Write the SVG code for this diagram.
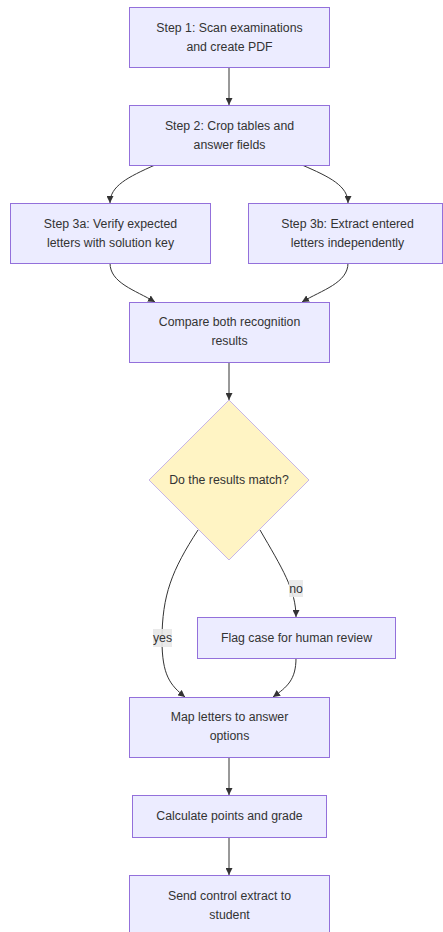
<svg xmlns="http://www.w3.org/2000/svg" width="443" height="932" viewBox="0 0 443 932">
<style>
.node rect{fill:#ECECFF;stroke:#9370DB;stroke-width:1}
.node polygon{fill:#FFF4C4;stroke:#C8B6E6;stroke-width:1}
text{font-family:"Liberation Sans",Arial,sans-serif;font-size:12.3px;fill:#333;text-anchor:middle;dominant-baseline:central}
.edges path{fill:none;stroke:#333;stroke-width:1}
.lbl rect{fill:#E8E8E8;opacity:0.9}
</style>
<defs>
<marker id="arr" viewBox="0 0 10 10" refX="10" refY="5" markerWidth="7" markerHeight="7" orient="auto" markerUnits="userSpaceOnUse">
<path d="M0,0 L10,5 L0,10 z" fill="#333"/>
</marker>
</defs>
<rect width="443" height="932" fill="#fff"/>
<g class="edges">
<path d="M229,67 L229,105" marker-end="url(#arr)"/>
<path d="M155,165 C128,177 110,186 110,203" marker-end="url(#arr)"/>
<path d="M302,165 C330,177 348,186 348,203" marker-end="url(#arr)"/>
<path d="M110,263 C110,283 135,290 155,302" marker-end="url(#arr)"/>
<path d="M348,263 C348,283 322,290 302,302" marker-end="url(#arr)"/>
<path d="M229,362 L229,400" marker-end="url(#arr)"/>
<path d="M198,530 C172,570 162,595 162,640 C162,675 170,685 185,697" marker-end="url(#arr)"/>
<path d="M260,530 C282,568 296,590 296,617" marker-end="url(#arr)"/>
<path d="M296,658 C296,680 287,687 273,697" marker-end="url(#arr)"/>
<path d="M229,757 L229,795" marker-end="url(#arr)"/>
<path d="M229,837 L229,875" marker-end="url(#arr)"/>
</g>
<g class="lbl" id="label-no"><rect x="289" y="580" width="14" height="17"/><text x="296" y="588.5">no</text></g>
<g class="lbl" id="label-yes"><rect x="153" y="629" width="19" height="18"/><text x="162.5" y="638">yes</text></g>
<g class="node" id="step1"><rect x="129.5" y="7.5" width="200" height="60"/><text x="229.5" y="28">Step 1: Scan examinations</text><text x="229.5" y="47">and create PDF</text></g>
<g class="node" id="step2"><rect x="129.5" y="105.5" width="200" height="60"/><text x="229.5" y="126">Step 2: Crop tables and</text><text x="229.5" y="145">answer fields</text></g>
<g class="node" id="step3a"><rect x="10.5" y="203.5" width="200" height="60"/><text x="110.5" y="224">Step 3a: Verify expected</text><text x="110.5" y="243">letters with solution key</text></g>
<g class="node" id="step3b"><rect x="248.5" y="203.5" width="194" height="60"/><text x="347.5" y="224">Step 3b: Extract entered</text><text x="347.5" y="243">letters independently</text></g>
<g class="node" id="compare"><rect x="129.5" y="302.5" width="200" height="60"/><text x="229.5" y="322">Compare both recognition</text><text x="229.5" y="341">results</text></g>
<g class="node" id="decision"><polygon points="229,400 309,480 229,560 149,480"/><text x="229" y="480">Do the results match?</text></g>
<g class="node" id="flag"><rect x="197.5" y="617.5" width="198" height="41"/><text x="296.5" y="638">Flag case for human review</text></g>
<g class="node" id="map"><rect x="129.5" y="697.5" width="200" height="60"/><text x="229.5" y="717">Map letters to answer</text><text x="229.5" y="736">options</text></g>
<g class="node" id="calc"><rect x="132.5" y="795.5" width="194" height="42"/><text x="229.5" y="816">Calculate points and grade</text></g>
<g class="node" id="send"><rect x="129.5" y="875.5" width="200" height="60"/><text x="229.5" y="896">Send control extract to</text><text x="229.5" y="915">student</text></g>
</svg>
